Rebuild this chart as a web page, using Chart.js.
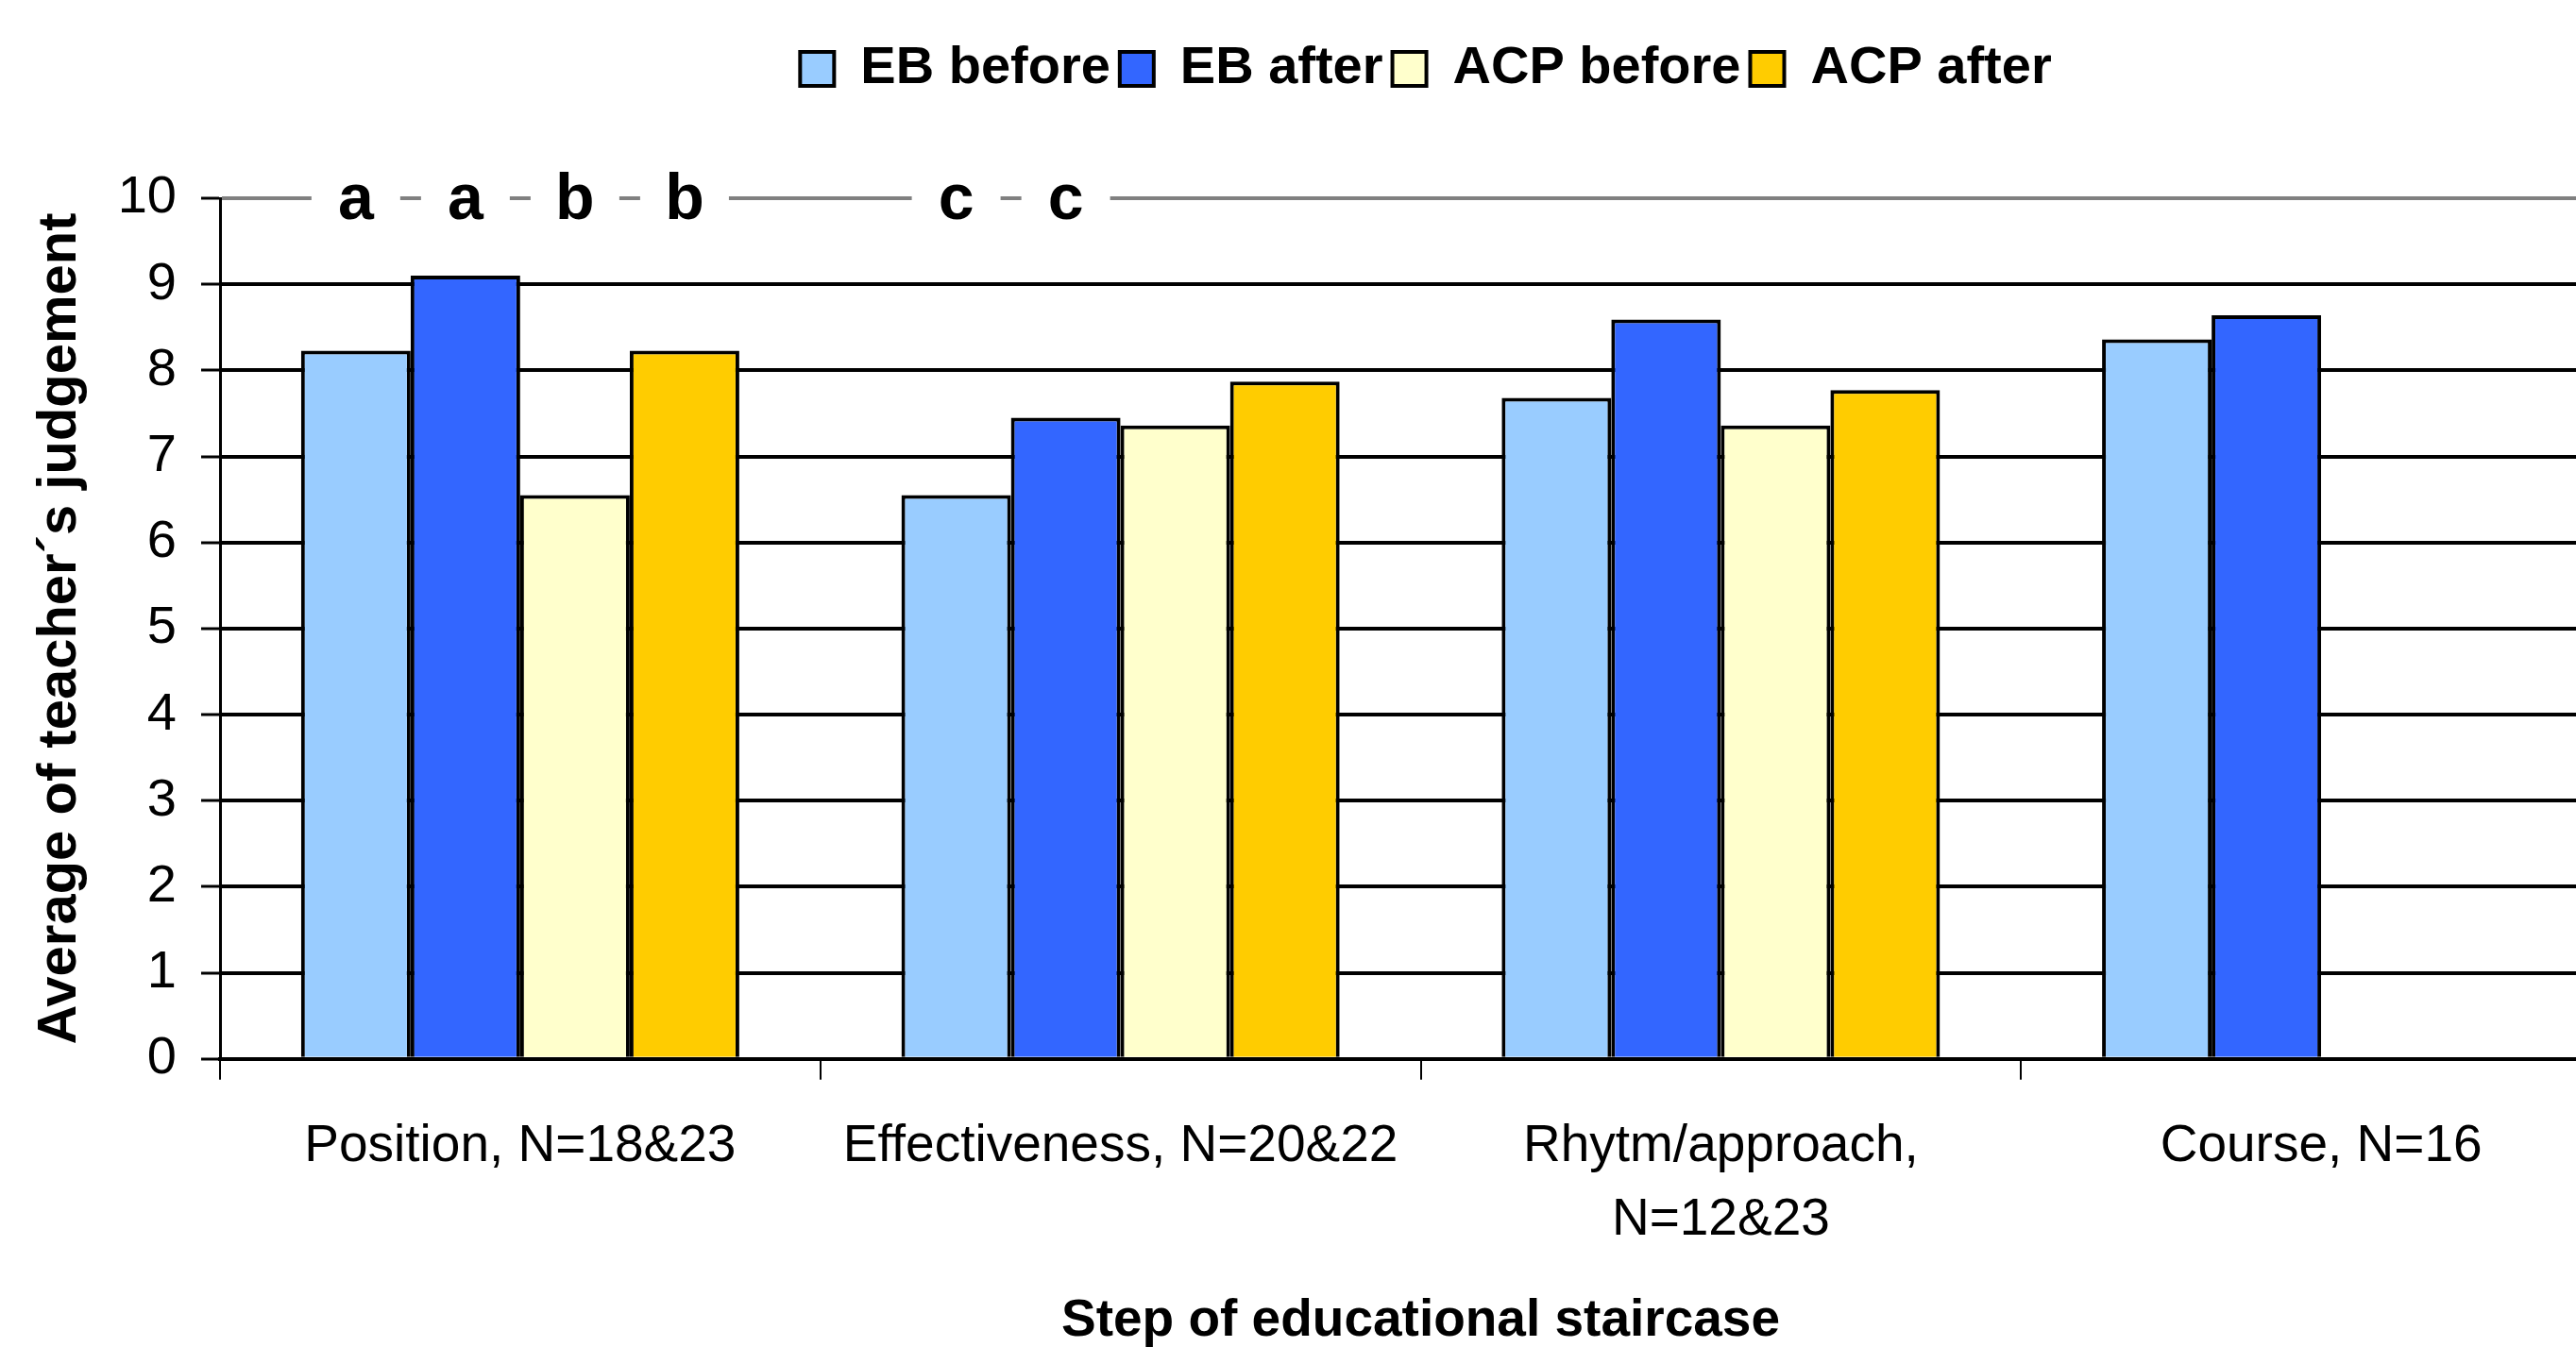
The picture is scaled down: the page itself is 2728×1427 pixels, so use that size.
<!DOCTYPE html>
<html>
<head>
<meta charset="utf-8">
<script src="https://cdn.jsdelivr.net/npm/chart.js@4.4.1/dist/chart.umd.min.js"></script>
<style>
    html, body { margin: 0; padding: 0; background: #fff; overflow: hidden; }
    #wrap { width: 2778px; height: 1427px; }
</style>
</head>
<body>
<div id="wrap"><canvas id="chart" width="2778" height="1427"></canvas></div>
<script>
// ── DATA ──────────────────────────────────────────────────────────────────────
const categories = ['Position, N=18&23', 'Effectiveness, N=20&22', ['Rhytm/approach,', 'N=12&23'], 'Course, N=16'];

const ebBefore  = [8.23, 6.55, 7.68, 8.36];
const ebAfter   = [9.10, 7.45, 8.59, 8.64];
const acpBefore = [6.55, 7.36, 7.36, null];
const acpAfter  = [8.23, 7.87, 7.77, null];

// significance letters printed on the top line, per series
const ebBeforeLetters  = ['a', 'c', '', ''];
const ebAfterLetters   = ['a', 'c', '', ''];
const acpBeforeLetters = ['b', '', '', ''];
const acpAfterLetters  = ['b', '', '', ''];

const yTicks = [0, 1, 2, 3, 4, 5, 6, 7, 8, 9, 10];

const FONT = "'Liberation Sans', Arial, sans-serif";

// ── PLUGINS ───────────────────────────────────────────────────────────────────
// make room between legend and plot for the letters row
const legendSpacer = {
    id: 'legendSpacer',
    beforeInit(chart) {
        const fit = chart.legend.fit;
        chart.legend.fit = function () {
            fit.call(this);
            this.height += 99;
        };
    },
    // legend is centred over the plot (which runs past the right edge)
    afterLayout(chart) {
        chart.legend.left += 122;
        chart.legend.right += 122;
    }
};

// letters sitting on the 10-line, each over its bar
const sigLetters = {
    id: 'sigLetters',
    afterDatasetsDraw(chart) {
        const ctx = chart.ctx;
        const y = chart.scales.y.getPixelForValue(10);
        ctx.save();
        ctx.font = `bold 68px ${FONT}`;
        ctx.textAlign = 'center';
        ctx.textBaseline = 'alphabetic';
        chart.data.datasets.forEach((ds, di) => {
            const meta = chart.getDatasetMeta(di);
            ds.letters.forEach((letter, i) => {
                if (!letter) return;
                const x = meta.data[i].x;
                ctx.fillStyle = '#fff';
                ctx.fillRect(x - 47, y - 8, 94, 16);
                ctx.fillStyle = '#000';
                ctx.fillText(letter, x, y + 22);
            });
        });
        ctx.restore();
    }
};

// ── CHART ─────────────────────────────────────────────────────────────────────
function makeDataset(label, data, color, letters) {
    return {
        label,
        data,
        letters,
        backgroundColor: color,
        borderColor: '#000',
        borderWidth: 4,
        borderSkipped: 'bottom',
        barPercentage: 1,
        categoryPercentage: 0.73,
    };
}

new Chart(document.getElementById('chart'), {
    type: 'bar',
    data: {
        labels: categories,
        datasets: [
            makeDataset('EB before',  ebBefore,  '#99CCFF', ebBeforeLetters),
            makeDataset('EB after',   ebAfter,   '#3366FF', ebAfterLetters),
            makeDataset('ACP before', acpBefore, '#FFFFCC', acpBeforeLetters),
            makeDataset('ACP after',  acpAfter,  '#FFCC00', acpAfterLetters),
        ],
    },
    plugins: [legendSpacer, sigLetters],
    options: {
        responsive: false,
        animation: false,
        devicePixelRatio: 1,
        layout: { padding: { top: 35, left: 0, right: 2, bottom: -6 } },
        plugins: {
            tooltip: { enabled: false },
            legend: {
                position: 'top',
                labels: {
                    color: '#000',
                    font: { family: FONT, size: 56, weight: 'bold' },
                    boxWidth: 36,
                    boxHeight: 36,
                    padding: 10,
                },
            },
        },
        scales: {
            x: {
                grid: {
                    display: true,
                    drawOnChartArea: false,
                    drawTicks: true,
                    tickLength: 22,
                    color: '#000',
                    lineWidth: 2,
                },
                border: { display: true, color: '#000', width: 4 },
                ticks: {
                    color: '#000',
                    font: { family: FONT, size: 55, lineHeight: 1.42 },
                    maxRotation: 0,
                    autoSkip: false,
                    padding: 32,
                },
                title: {
                    display: true,
                    text: 'Step of educational staircase',
                    color: '#000',
                    font: { family: FONT, size: 55, weight: 'bold' },
                    padding: { top: 3, bottom: 0 },
                },
            },
            y: {
                min: 0,
                max: 10,
                afterBuildTicks: s => { s.ticks = yTicks.map(v => ({ value: v })); },
                afterFit: s => { s.width = 233; },
                grid: {
                    color: c => (c.tick && c.tick.value === 10 ? '#808080' : '#000'),
                    lineWidth: 4,
                    tickLength: 20,
                    tickColor: '#000',
                    tickWidth: 3,
                },
                border: { display: true, color: '#000', width: 3 },
                ticks: {
                    color: '#000',
                    font: { family: FONT, size: 56 },
                    padding: 26,
                },
                title: {
                    display: true,
                    text: 'Average of teacher´s judgement',
                    color: '#000',
                    font: { family: FONT, size: 58, weight: 'bold' },
                    padding: { top: 29, bottom: 0 },
                },
            },
        },
    },
});
</script>
</body>
</html>
